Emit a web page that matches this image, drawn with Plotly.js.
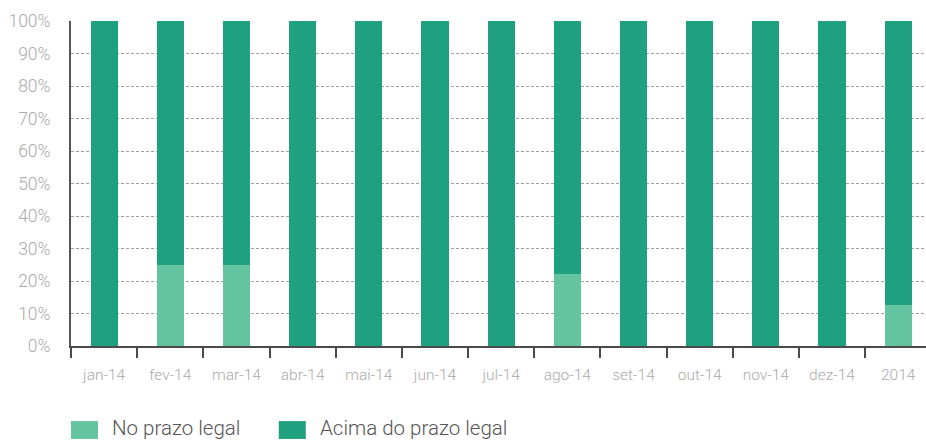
<!DOCTYPE html>
<html><head><meta charset="utf-8">
<script src="https://cdn.plot.ly/plotly-3.0.1.min.js"></script>
<style>html,body{margin:0;padding:0;background:#fff}#chart{width:926px;height:440px}</style>
</head><body><div id="chart"></div>
<script>
const categories = ['jan-14','fev-14','mar-14','abr-14','mai-14','jun-14','jul-14','ago-14','set-14','out-14','nov-14','dez-14','2014'];
const seriesNames = ['No prazo legal', 'Acima do prazo legal'];
const noPrazo = [0, 25, 25, 0, 0, 0, 0, 22.2, 0, 0, 0, 0, 12.5];
const acima = [100, 75, 75, 100, 100, 100, 100, 77.8, 100, 100, 100, 100, 87.5];
const yTicks = [0,10,20,30,40,50,60,70,80,90,100];
const gridVals = [10,20,30,40,50,60,70,80,90];
const colors = ['#65c4a0', '#1fa07e'];

const font = {family: 'Roboto, "Liberation Sans", sans-serif', weight: 300};

const traces = [
  {type:'bar', x: categories, y: noPrazo, name: seriesNames[0], marker:{color: colors[0]}, hoverinfo:'none'},
  {type:'bar', x: categories, y: acima, name: seriesNames[1], marker:{color: colors[1]}, hoverinfo:'none'},
  {type:'scatter', x: [], y: [], yaxis: 'y2', mode: 'markers', showlegend: false, hoverinfo: 'none'}
];

const annotations = [];
const shapes = [];
const legendX = [0, 0.243];
seriesNames.forEach((n, i) => {
  shapes.push({type:'rect', xref:'paper', yref:'paper', x0: legendX[i], x1: legendX[i] + 0.0316, y0: -0.231, y1: -0.286, fillcolor: colors[i], line:{width:0}});
  annotations.push({xref:'paper', yref:'paper', x: legendX[i] + 0.0456, y: -0.252, xanchor:'left', yanchor:'middle', text: n, showarrow:false, font:{family: font.family, weight: 300, size: 20.5, color:'#555'}});
});

const layout = {
  width: 926, height: 440,
  margin: {l: 71, r: 0, t: 21, b: 94},
  paper_bgcolor: '#fff', plot_bgcolor: '#fff',
  barmode: 'stack', bargap: 0.59,
  showlegend: false,
  font: font,
  xaxis: {
    type:'category', range: [-0.5, 12.42],
    showline: true, linecolor: '#4a4a4a', linewidth: 2,
    ticks: 'outside', tickson: 'boundaries', ticklen: 10, tickwidth: 2, tickcolor: '#4a4a4a',
    ticklabelstandoff: 13,
    tickfont: {family: font.family, weight: 300, size: 15.5, color: '#aaa'},
    showgrid: false, zeroline: false, fixedrange: true
  },
  yaxis: {
    range: [0, 100], tickmode: 'array', tickvals: yTicks, ticktext: yTicks.map(v => v + '%'),
    showline: true, linecolor: '#555', linewidth: 2,
    ticks: '', ticklabelstandoff: 15,
    tickfont: {family: font.family, weight: 300, size: 17.5, color: '#aaa'},
    showgrid: false, zeroline: false, fixedrange: true
  },
  yaxis2: {
    overlaying: 'y', anchor: 'x', side: 'left', range: [0, 100],
    tickmode: 'array', tickvals: gridVals, showticklabels: false, ticks: '',
    showgrid: true, gridcolor: '#a0a0a0', gridwidth: 1, griddash: '3px,2px',
    showline: false, zeroline: false, fixedrange: true
  },
  shapes: shapes,
  annotations: annotations
};

Plotly.newPlot('chart', traces, layout, {staticPlot: true, displayModeBar: false});
</script></body></html>
